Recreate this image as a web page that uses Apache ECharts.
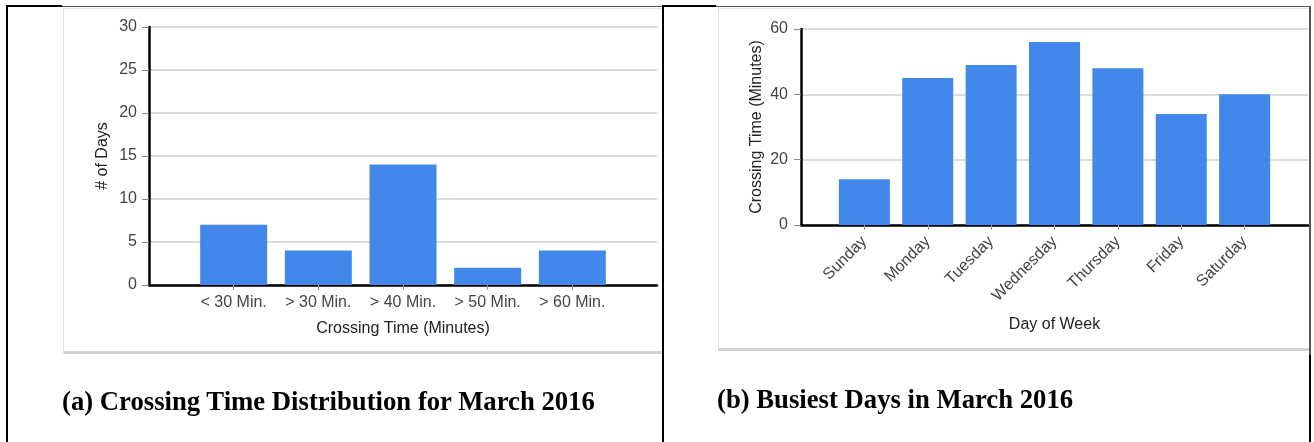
<!DOCTYPE html>
<html>
<head>
<meta charset="utf-8">
<script src="https://cdn.jsdelivr.net/npm/echarts@6/dist/echarts.min.js"></script>
<style>
  html, body { margin: 0; padding: 0; background: #fff; }
  #wrap { position: relative; width: 1314px; height: 442px; overflow: hidden; background: #fff; }
  .ln { position: absolute; }
  .frame { position: absolute; box-sizing: border-box; border: 1px solid #e2e2e2; border-bottom: 3px solid #d2d2d2; background: #fff; }
  .cap { position: absolute; font-family: "Liberation Serif", "Times New Roman", serif; font-weight: bold; font-size: 26.7px; color: #000; white-space: nowrap; line-height: 1; }
  #chart { position: absolute; left: 0; top: 0; width: 1314px; height: 442px; }
</style>
</head>
<body>
<div id="wrap">
  <div class="frame" style="left:63px; top:8px; width:600px; height:346px;"></div>
  <div class="frame" style="left:718px; top:8px; width:592px; height:343px;"></div>
  <div id="chart"></div>
  <!-- table cell borders -->
  <div class="ln" style="left:6px; top:6px; width:1305px; height:1px; background:#555;"></div>
  <div class="ln" style="left:6px; top:5px; width:56px; height:2px; background:#000;"></div>
  <div class="ln" style="left:662px; top:5px; width:54px; height:2px; background:#000;"></div>
  <div class="ln" style="left:6px; top:5px; width:2px; height:437px; background:#000;"></div>
  <div class="ln" style="left:662px; top:5px; width:2px; height:437px; background:#000;"></div>
  <div class="ln" style="left:1309px; top:6px; width:2px; height:349px; background:#555;"></div>
  <div class="ln" style="left:1309px; top:355px; width:2px; height:87px; background:#000;"></div>
  <div class="cap" style="left:62px; top:388px;">(a) Crossing Time Distribution for March 2016</div>
  <div class="cap" style="left:717px; top:386px;">(b) Busiest Days in March 2016</div>
</div>
<script>
// ---- data ----
const distCategories = ['< 30 Min.', '> 30 Min.', '> 40 Min.', '> 50 Min.', '> 60 Min.'];
const distDays = [7, 4, 14, 2, 4];
const dayCategories = ['Sunday', 'Monday', 'Tuesday', 'Wednesday', 'Thursday', 'Friday', 'Saturday'];
const dayMinutes = [14, 45, 49, 56, 48, 34, 40];
const distAxisMax = 30, distAxisStep = 5;
const dayAxisMax = 60, dayAxisStep = 20;

// padded category lists (empty slot at each end of the axis)
const padCats = c => [''].concat(c, ['']);
const padVals = v => ['-'].concat(v, ['-']);

const FONT = '"Liberation Sans", Arial, sans-serif';
const BAR = '#4188EA';

function xAxisCfg(gridIndex, cats, name, nameGap, rotate, margin) {
  return {
    type: 'category', gridIndex: gridIndex, data: padCats(cats), boundaryGap: false,
    name: name, nameLocation: 'middle', nameGap: nameGap,
    nameTextStyle: { color: '#222', fontSize: 16, fontFamily: FONT },
    axisLine: { show: true, lineStyle: { color: '#000', width: 2.5 } },
    axisTick: { show: true, length: 5, lineStyle: { color: '#999', width: 1 },
                interval: function (i, v) { return v !== ''; } },
    axisLabel: { color: '#444', fontSize: 16, fontFamily: FONT, margin: margin, rotate: rotate,
                 interval: 0 },
    splitLine: { show: false }
  };
}
function yAxisCfg(gridIndex, max, step, name, nameGap, margin) {
  return {
    type: 'value', gridIndex: gridIndex, min: 0, max: max, interval: step,
    name: name, nameLocation: 'middle', nameGap: nameGap,
    nameTextStyle: { color: '#222', fontSize: 16, fontFamily: FONT },
    axisLine: { show: true, lineStyle: { color: '#000', width: 2.5 } },
    axisTick: { show: true, length: 7, lineStyle: { color: '#888', width: 1 } },
    axisLabel: { color: '#444', fontSize: 16, fontFamily: FONT, margin: margin },
    splitLine: { show: true, lineStyle: { color: '#dcdcdc', width: 2 } }
  };
}

const chart = echarts.init(document.getElementById('chart'), null, { renderer: 'canvas' });
chart.setOption({
  backgroundColor: 'transparent',
  animation: false,
  grid: [
    { left: 149, top: 27, width: 508, height: 258 },
    { left: 801, top: 29, width: 507, height: 196 }
  ],
  xAxis: [
    xAxisCfg(0, distCategories, 'Crossing Time (Minutes)', 36, 0, 10),
    xAxisCfg(1, dayCategories, 'Day of Week', 92, 45, 14)
  ],
  yAxis: [
    yAxisCfg(0, distAxisMax, distAxisStep, '# of Days', 38, 12),
    yAxisCfg(1, dayAxisMax, dayAxisStep, 'Crossing Time (Minutes)', 36, 13)
  ],
  series: [
    { type: 'bar', xAxisIndex: 0, yAxisIndex: 0, data: padVals(distDays), barWidth: 67,
      itemStyle: { color: BAR }, z: 1 },
    { type: 'bar', xAxisIndex: 1, yAxisIndex: 1, data: padVals(dayMinutes), barWidth: 51,
      itemStyle: { color: BAR }, z: 1 }
  ]
});
</script>
</body>
</html>
